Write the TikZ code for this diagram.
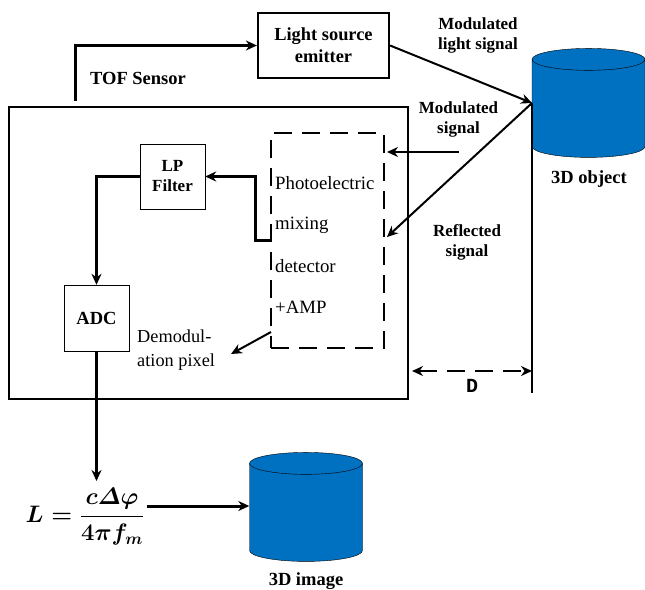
\documentclass[tikz,border=0pt]{standalone}
\usepackage{amsmath,amssymb}
\usepackage{fontspec}
\setmainfont{Liberation Serif}
\newfontfamily\labelmono{Liberation Mono}
\definecolor{cylblue}{RGB}{0,112,192}
\usetikzlibrary{shapes.geometric,arrows.meta,positioning}

\begin{document}
\begin{tikzpicture}[
    x=1pt, y=-1pt,
    >={Stealth[length=11pt,width=10pt]},
    blockbox/.style={rectangle, draw, inner sep=0pt, align=center, font=\fontsize{17}{20}\selectfont\bfseries},
    datacyl/.style={cylinder, shape border rotate=90, shape aspect=2.55, draw, fill=cylblue, inner sep=0pt, minimum width=113pt, minimum height=109pt},
    boldlabel/.style={align=center, inner sep=0pt, font=\fontsize{17}{20}\selectfont\bfseries},
    biglabel/.style={boldlabel, font=\fontsize{18.5}{20}\selectfont\bfseries},
    pixellabel/.style={anchor=west, inner sep=0pt, font=\fontsize{18.8}{24}\selectfont},
    thickflow/.style={->, line width=3pt},
    thinflow/.style={->, line width=2pt}
]
\useasboundingbox (0,0) rectangle (645,589);

\node[blockbox, line width=2.2pt, minimum width=131pt, minimum height=65pt, font=\fontsize{18.4}{22}\selectfont\bfseries] (emitter) at (323.5,45.5) {Light source\\emitter};
\node[blockbox, line width=2.2pt, minimum width=399pt, minimum height=292pt] (sensor) at (208.5,253) {};
\node[blockbox, minimum width=65pt, minimum height=65pt] (lpfilter) at (172.5,176.5) {LP\\Filter};
\node[blockbox, minimum width=65pt, minimum height=66pt, font=\fontsize{18.5}{20}\selectfont\bfseries] (adc) at (96.5,318) {ADC};
\node[rectangle, draw, line width=2pt, dash pattern=on 18pt off 10pt, minimum width=113pt, minimum height=215pt] (pmd) at (327.5,240.5) {};

\node[datacyl] (object) at (588.5,108.5) {\phantom{\rule{8.6pt}{8.6pt}}};
\node[datacyl] (image) at (306,512.5) {\phantom{\rule{8.6pt}{8.6pt}}};

\node[pixellabel] (photo) at (275,183) {Photoelectric};
\node[pixellabel, below=42pt of photo.west, anchor=west] (mixing) {mixing};
\node[pixellabel, below=41pt of mixing.west, anchor=west] (detector) {detector};
\node[pixellabel, below=41.5pt of detector.west, anchor=west] (amp) {+AMP};
\node[pixellabel, font=\fontsize{18.3}{24}\selectfont, align=left] (demod) at (137,350.5) {Demodul-\\ation pixel};

\node[biglabel] (tof) at (138,78) {TOF Sensor};
\node[boldlabel] (lightsig) at (478,35) {Modulated\\light signal};
\node[boldlabel] (modsig) at (458.5,119) {Modulated\\signal};
\node[boldlabel] (reflsig) at (467,242) {Reflected\\signal};
\node[biglabel] (objlabel) at (589,179) {3D object};
\node[biglabel] (imglabel) at (306,581) {3D image};
\node[inner sep=0pt, font=\fontsize{20}{22}\selectfont\labelmono\bfseries] (dlabel) at (472,386) {D};
\node[inner sep=0pt, scale=1.15, font=\huge\boldmath] (formula) at (85,517) {$L=\dfrac{c\mathnormal{\Delta}\varphi}{4\pi f_m}$};

\coordinate (sensorout) at (75,101);
\coordinate (hit) at (532,103);
\coordinate (base) at (532,393);
\coordinate (reflend) at (387,237);
\coordinate (modstart) at (459,152);
\coordinate (modend) at (387,152);
\coordinate (mixout) at (271,240);
\coordinate (demodout) at (271,332);
\coordinate (demodend) at (231,354);
\coordinate (adcend) at (96.5,481);
\coordinate (formulaout) at (147,506);
\coordinate (dleft) at (412,371);
\coordinate (dright) at (532,371);

\draw[thickflow] (sensorout) |- (emitter.west);
\draw[thinflow] (emitter.east) -- (hit);
\draw[thinflow] (hit) -- (reflend);
\draw[line width=1.5pt] (hit) -- (base);
\draw[thinflow] (modstart) -- (modend);
\draw[thickflow] (mixout) -- ++(-16,0) |- (lpfilter.east);
\draw[thickflow] (lpfilter.west) -| (adc.north);
\draw[thickflow] (adc.south) -- (adcend);
\draw[thickflow] (formulaout) -- (image.west |- formulaout);
\draw[thinflow] (demodout) -- (demodend);
\draw[<->, line width=1.8pt, dash pattern=on 18pt off 10pt] (dleft) -- (dright);
\end{tikzpicture}
\end{document}
